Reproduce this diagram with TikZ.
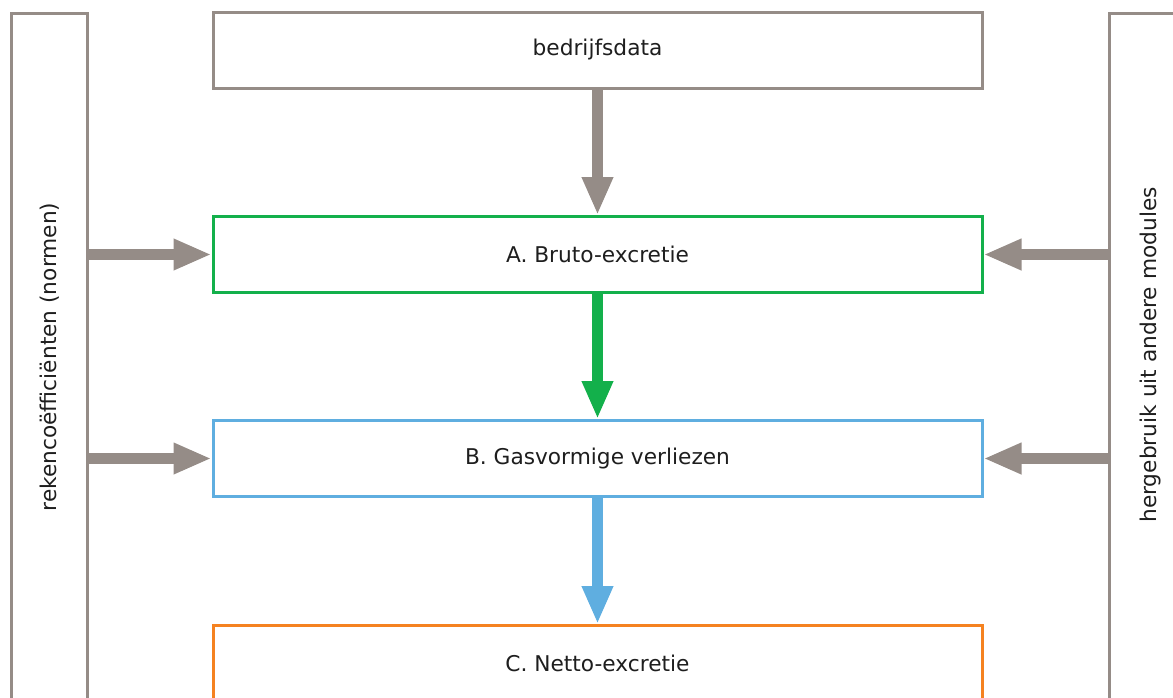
\documentclass[tikz,border=0pt]{standalone}
\usepackage{fontspec}
\setmainfont{DejaVu Sans}
\usetikzlibrary{arrows.meta}
\definecolor{stone}{HTML}{958C87}
\definecolor{brutogreen}{HTML}{13B04B}
\definecolor{gasblue}{HTML}{5FAEE0}
\definecolor{nettoorange}{HTML}{F58220}
\definecolor{ink}{HTML}{1E1E1E}
\tikzset{
  x=1pt, y=-1pt,
  stepbox/.style={draw, line width=3pt, minimum width=769pt, minimum height=76pt,
    inner sep=0pt, fill=white, font=\fontsize{21.7}{26}\selectfont, text=ink},
  sidebar/.style={draw=stone, line width=3pt, minimum width=76pt, minimum height=720pt,
    inner sep=0pt, anchor=north west},
  sidelabel/.style={rotate=90, font=\fontsize{21.7}{26}\selectfont, text=ink},
  flow/.style={line width=11pt, -{Triangle[width=29pt,length=38pt]}},
}
\begin{document}
\begin{tikzpicture}
\useasboundingbox (0,0) rectangle (1173,697);
\clip (0,0) rectangle (1173,697);
% side bars with their rotated labels
\node[sidebar] (lbar) at (10,12) {};
\node[sidebar] (rbar) at (1108,12) {};
\node[sidelabel] (llab) at (50,357) {rekencoëfficiënten (normen)};
\node[sidelabel] (rlab) at (1151,355) {hergebruik uit andere modules};
% main chain of steps
\node[stepbox, draw=stone] (data) at (597.5,50) {bedrijfsdata};
\node[stepbox, draw=brutogreen] (bruto) at (597.5,254.5) {A. Bruto-excretie};
\node[stepbox, draw=gasblue] (gas) at (597.5,458.5) {B. Gasvormige verliezen};
\node[stepbox, draw=nettoorange] (netto) at (597.5,663.5) {C. Netto-excretie};
% vertical flow
\draw[flow, stone] (data.south) -- (bruto.north);
\draw[flow, brutogreen] (bruto.south) -- (gas.north);
\draw[flow, gasblue] (gas.south) -- (netto.north);
% inputs from the side bars
\draw[flow, stone] (lbar.east |- bruto.west) -- (bruto.west);
\draw[flow, stone] (lbar.east |- gas.west) -- (gas.west);
\draw[flow, stone] (rbar.west |- bruto.east) -- (bruto.east);
\draw[flow, stone] (rbar.west |- gas.east) -- (gas.east);
\end{tikzpicture}
\end{document}
